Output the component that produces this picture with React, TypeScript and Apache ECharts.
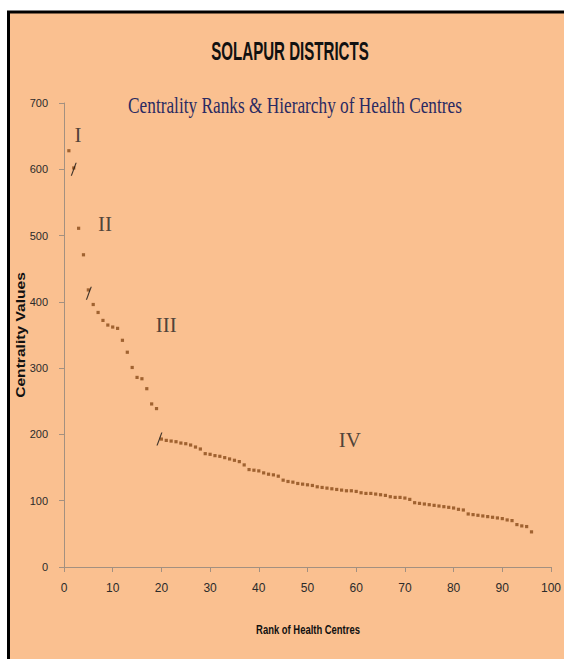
import React, { useEffect, useRef } from "react";
import * as echarts from "echarts";

const ranks: number[] = Array.from({ length: 96 }, (_, i) => i + 1);
const centralityValues: number[] = [
  628, 602, 511, 471, 418, 396, 384, 372, 365, 362,
  360, 342, 324, 301, 286, 284, 269, 246, 239, 193,
  191, 190, 189, 187, 186, 184, 181, 178, 171, 170,
  168, 167, 165, 163, 161, 159, 154, 147, 146, 145,
  142, 140, 139, 137, 131, 129, 128, 126, 125, 124,
  123, 121, 120, 119, 118, 117, 116, 115, 115, 114,
  112, 111, 111, 110, 109, 108, 106, 105, 105, 104,
  102, 97, 96, 95, 94, 93, 92, 91, 90, 89,
  87, 86, 80, 79, 78, 77, 76, 75, 74, 73,
  71, 70, 64, 62, 61, 53,
];
const separatorRanks: number[] = [2, 5.1, 19.6];
const separatorValues: number[] = [600, 413, 193];
const hierarchyLabels: string[] = ["I", "II", "III", "IV"];
const hierarchyRanks: number[] = [2.9, 8.4, 21, 58.7];
const hierarchyValues: number[] = [652, 517, 365, 192];
const xTicks = { min: 0, max: 100, interval: 10 };
const yTicks = { min: 0, max: 700, interval: 100 };

export default function App() {
  const ref = useRef<HTMLDivElement>(null);
  useEffect(() => {
    if (!ref.current) return;
    const chart = echarts.init(ref.current, null, { renderer: "svg" });
    const narrow = "'Liberation Sans Narrow', 'Liberation Sans', sans-serif";
    const axisColor = "#a39080";
    chart.setOption({
      animation: false,
      backgroundColor: "#ffffff",
      grid: { left: 64, right: 13, top: 103, bottom: 92, containLabel: false },
      graphic: [
        {
          type: "rect",
          z: -100,
          shape: { x: 8.5, y: 12, width: 620, height: 700 },
          style: { fill: "#FAC090", stroke: "#000000", lineWidth: 3 },
          silent: true,
        },
        {
          type: "text",
          x: 290,
          y: 51,
          scaleX: 0.58,
          style: {
            text: "SOLAPUR DISTRICTS",
            fontFamily: "'Liberation Sans', Arial, sans-serif",
            fontWeight: "bold",
            fontSize: 26,
            fill: "#111111",
            align: "center",
            verticalAlign: "middle",
          },
        },
        {
          type: "text",
          x: 295,
          y: 105,
          scaleX: 0.72,
          style: {
            text: "Centrality Ranks & Hierarchy of Health Centres",
            fontFamily: "'Liberation Serif', 'Times New Roman', serif",
            fontSize: 24,
            fill: "#2a2a62",
            align: "center",
            verticalAlign: "middle",
          },
        },
        {
          type: "text",
          x: 21,
          y: 335,
          rotation: Math.PI / 2,
          scaleX: 1.3,
          style: {
            text: "Centrality Values",
            fontFamily: "'Liberation Sans', Arial, sans-serif",
            fontWeight: "bold",
            fontSize: 12,
            fill: "#111111",
            align: "center",
            verticalAlign: "middle",
          },
        },
        {
          type: "text",
          x: 308,
          y: 629,
          scaleX: 0.7,
          style: {
            text: "Rank of Health Centres",
            fontFamily: "'Liberation Sans', Arial, sans-serif",
            fontWeight: "bold",
            fontSize: 13.5,
            fill: "#111111",
            align: "center",
            verticalAlign: "middle",
          },
        },
      ],
      xAxis: {
        type: "value",
        min: xTicks.min,
        max: xTicks.max,
        interval: xTicks.interval,
        axisLine: { show: true, lineStyle: { color: axisColor, width: 1 } },
        axisTick: { show: true, length: 5, lineStyle: { color: axisColor } },
        axisLabel: { color: "#2b2b2b", fontSize: 12, fontFamily: narrow, margin: 15 },
        splitLine: { show: false },
      },
      yAxis: {
        type: "value",
        min: yTicks.min,
        max: yTicks.max,
        interval: yTicks.interval,
        axisLine: { show: true, lineStyle: { color: axisColor, width: 1 } },
        axisTick: { show: true, length: 5, lineStyle: { color: axisColor } },
        axisLabel: { color: "#2b2b2b", fontSize: 11, fontFamily: narrow, margin: 16 },
        splitLine: { show: false },
      },
      series: [
        {
          type: "scatter",
          name: "Centrality",
          symbol: "rect",
          symbolSize: 3.2,
          itemStyle: { color: "#8a4a18" },
          data: ranks.map((r, i) => [r, centralityValues[i]]),
          z: 3,
        },
        {
          type: "scatter",
          name: "Separators",
          symbol: "path://M0,20 L8,0 L10,0 L2,20 Z",
          symbolKeepAspect: false,
          symbolSize: [6, 13],
          itemStyle: { color: "#111111" },
          data: separatorRanks.map((r, i) => [r, separatorValues[i]]),
          z: 4,
        },
        {
          type: "scatter",
          name: "Hierarchy",
          symbol: "circle",
          symbolSize: 2,
          itemStyle: { color: "rgba(0,0,0,0)" },
          label: {
            show: true,
            position: "inside",
            formatter: (p: any) => p.name,
            fontFamily: "'Liberation Serif', 'Times New Roman', serif",
            fontSize: 21,
            color: "#222222",
          },
          data: hierarchyLabels.map((name, i) => ({
            name,
            value: [hierarchyRanks[i], hierarchyValues[i]],
          })),
          z: 4,
        },
      ],
    });
    return () => chart.dispose();
  }, []);
  return (
    <div
      ref={ref}
      style={{ position: "absolute", left: 0, top: 0, width: 564, height: 659 }}
    />
  );
}
